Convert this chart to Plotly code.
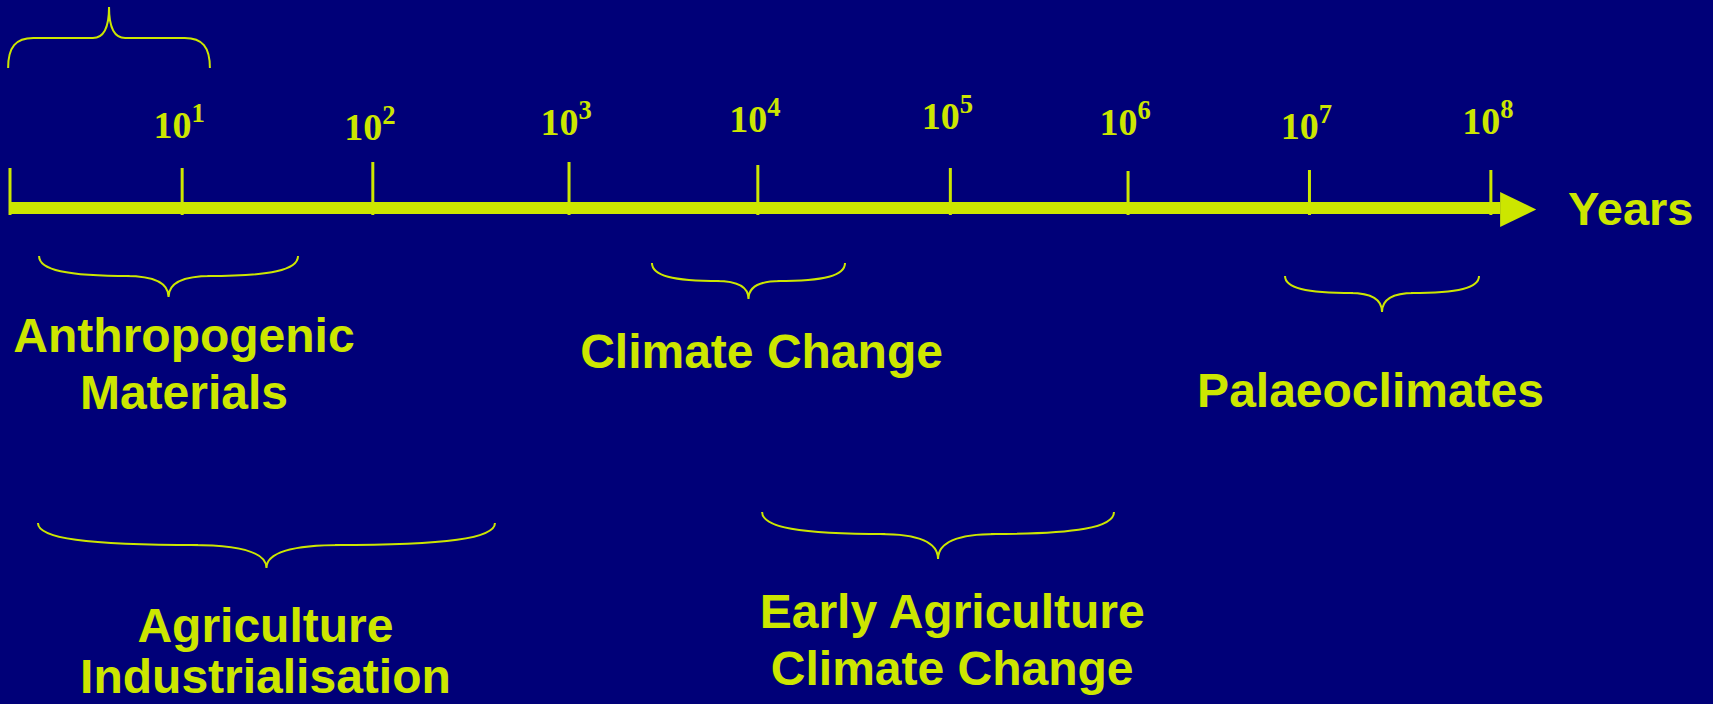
import plotly.graph_objects as go

# ---------------- data ----------------
# timescale in log10(years); ticks as drawn on the (hand-drawn) scale
decade_exponents = [0, 1, 2, 3, 4, 5, 6, 7, 8]
tick_positions = [0.0, 0.93, 1.96, 3.02, 4.04, 5.08, 6.04, 7.02, 8.0]
tick_labels = ["", "10<sup>1</sup>", "10<sup>2</sup>", "10<sup>3</sup>", "10<sup>4</sup>",
               "10<sup>5</sup>", "10<sup>6</sup>", "10<sup>7</sup>", "10<sup>8</sup>"]
axis_title = "Years"

# time windows (log10 years) covered by each field of study
period_names = ["", "Anthropogenic<br>Materials", "Climate Change", "Palaeoclimates",
                "Agriculture<br>Industrialisation", "Early Agriculture<br>Climate Change"]
period_start = [-0.01, 0.157, 3.468, 6.888, 0.151, 4.063]
period_end = [1.08, 1.556, 4.511, 7.936, 2.62, 5.964]
period_label_at = [None, 0.94, 4.06, 7.35, 1.38, 5.09]

# ---------------- style / layout ----------------
BG = "#000078"
FG = "#CCE600"
W, H = 1713, 704
X_RANGE = [-0.054, 9.2]
SANS = "Liberation Sans, Arial, Helvetica, sans-serif"
SERIF = "Liberation Serif, Times New Roman, serif"

AXIS_Y = 208
AXIS_W = 12
AXIS_END = 8.05
HEAD_LEN = 0.195
HEAD_HALF = 17.5
TICK_TOPS = [168, 168, 162, 162, 165, 168, 171, 170, 170]
TICK_BOT = 215
LABEL_YS = [0, 128, 130, 125, 122, 119, 125, 129, 124]

# brace geometry per period: (end y, flat y, tip y, end-curve frac, tip-curve frac)
brace_geom = [
    (68, 38, 7, 0.25, 0.16),
    (256, 276, 297, 0.7, 0.33),
    (263, 281, 299, 0.7, 0.33),
    (276, 293, 312, 0.7, 0.33),
    (523, 545, 568, 0.7, 0.33),
    (512, 534, 559, 0.7, 0.33),
]
# vertical centres of each text line
label_lines_y = [[], [339.5, 396.5], [355.5], [394.5], [629.5, 681], [615.5, 672.5]]


def brace_path(x0, x1, ye, yf, yt, a, b):
    xm = (x0 + x1) / 2
    h = (x1 - x0) / 2
    c1 = ye + 0.7 * (yf - ye)
    c2 = yf + 0.3 * (yt - yf)
    p = [
        f"M {x0},{ye}",
        f"C {x0},{c1} {x0 + 0.3 * a * h},{yf} {x0 + a * h},{yf}",
        f"L {xm - b * h},{yf}",
        f"C {xm - 0.35 * b * h},{yf} {xm},{c2} {xm},{yt}",
        f"C {xm},{c2} {xm + 0.35 * b * h},{yf} {xm + b * h},{yf}",
        f"L {x1 - a * h},{yf}",
        f"C {x1 - 0.3 * a * h},{yf} {x1},{c1} {x1},{ye}",
    ]
    return " ".join(p)


fig = go.Figure()
shapes = []

# main arrow shaft
fig.add_trace(go.Scatter(x=[tick_positions[0], AXIS_END], y=[AXIS_Y, AXIS_Y], mode="lines",
                         line=dict(color=FG, width=AXIS_W), hoverinfo="skip", showlegend=False))
# arrow head
fig.add_trace(go.Scatter(x=[AXIS_END, AXIS_END + HEAD_LEN, AXIS_END, AXIS_END],
                         y=[AXIS_Y - HEAD_HALF + 1.5, AXIS_Y + 1.5, AXIS_Y + HEAD_HALF + 1.5, AXIS_Y - HEAD_HALF + 1.5],
                         mode="lines", fill="toself", fillcolor=FG, line=dict(color=FG, width=0),
                         hoverinfo="skip", showlegend=False))

# ticks
for pos, top in zip(tick_positions, TICK_TOPS):
    shapes.append(dict(type="line", xref="x", yref="y", x0=pos, x1=pos, y0=top, y1=TICK_BOT,
                       line=dict(color=FG, width=3)))

# tick labels
lab_x = [p - 0.016 for p, l in zip(tick_positions, tick_labels) if l]
lab_y = [y for y, l in zip(LABEL_YS, tick_labels) if l]
lab_t = [l for l in tick_labels if l]
fig.add_trace(go.Scatter(x=lab_x, y=lab_y, text=lab_t, mode="text", textposition="middle center",
                         textfont=dict(family=SERIF, size=38, color=FG, weight="bold"),
                         hoverinfo="skip", showlegend=False))

# axis title
fig.add_trace(go.Scatter(x=[8.417], y=[AXIS_Y + 5.5], text=[axis_title], mode="text",
                         textposition="middle right",
                         textfont=dict(family=SANS, size=47, color=FG, weight="bold"),
                         hoverinfo="skip", showlegend=False))

# braces + period labels
txt_x, txt_y, txt_t = [], [], []
for name, s, e, lx, g, ly in zip(period_names, period_start, period_end, period_label_at,
                                 brace_geom, label_lines_y):
    shapes.append(dict(type="path", xref="x", yref="y", path=brace_path(s, e, *g),
                       line=dict(color=FG, width=2)))
    if name:
        for line_text, yy in zip(name.split("<br>"), ly):
            txt_x.append(lx)
            txt_y.append(yy)
            txt_t.append(line_text)
fig.add_trace(go.Scatter(x=txt_x, y=txt_y, text=txt_t, mode="text", textposition="middle center",
                         textfont=dict(family=SANS, size=48, color=FG, weight="bold"),
                         hoverinfo="skip", showlegend=False, cliponaxis=False))

fig.update_layout(
    width=W, height=H, autosize=False,
    margin=dict(l=0, r=0, t=0, b=0, pad=0),
    paper_bgcolor=BG, plot_bgcolor=BG,
    font=dict(family=SANS, size=48, color=FG),
    xaxis=dict(range=X_RANGE, visible=False, fixedrange=True),
    yaxis=dict(range=[H, 0], visible=False, fixedrange=True),
    shapes=shapes, showlegend=False,
)

fig.write_html("out.html", config={"displayModeBar": False},
               post_script="document.body.style.margin='0';document.body.style.overflow='hidden';")
